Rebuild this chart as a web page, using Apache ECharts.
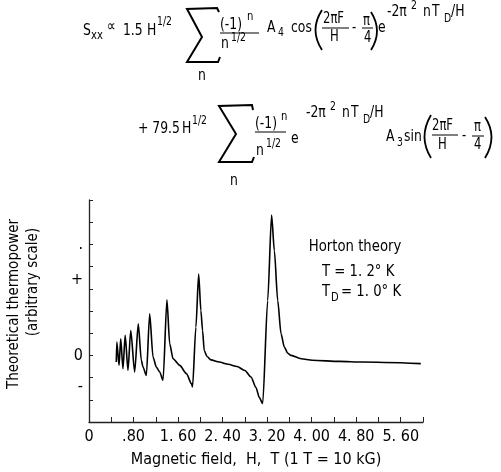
<!DOCTYPE html>
<html>
<head>
  <meta charset="utf-8">
  <title>Horton theory thermopower</title>
  <script src="https://fastly.jsdelivr.net/npm/echarts@6/dist/echarts.min.js"></script>
</head>
<body style="margin:0">
<div id="chart-container" style="width:501px;height:472px;"></div>
<script type="text/javascript">
  var FONT = '"Liberation Sans Narrow", "DejaVu Sans Condensed", sans-serif';

  // magnetic field H (T) and theoretical thermopower (arbitrary units)
  var fieldH = [0.49, 0.50, 0.54, 0.57, 0.61, 0.65, 0.70, 0.75, 0.82, 0.885,
    0.94, 0.97, 1.03, 1.09, 1.15, 1.21, 1.27, 1.33, 1.40, 1.45,
    1.51, 1.63, 1.75, 1.84, 1.86, 1.92, 1.97, 2.01, 2.04, 2.07,
    2.12, 2.19, 2.34, 2.50, 2.66, 2.80, 2.91, 3.00, 3.06, 3.12,
    3.21, 3.28, 3.33, 3.39, 3.45, 3.51, 3.57, 3.63, 3.81, 4.01,
    4.50, 4.91, 5.96];
  var thermo = [-0.3, 0.6, -0.45, 0.75, -0.6, 0.9, -0.67, 1.12, -0.75, 1.42,
    -0.22, -0.52, -0.9, 1.87, -0.07, -0.52, -0.75, -1.12, 2.5, 0.52,
    -0.15, -0.45, -0.82, -1.27, -1.42, 1.27, 3.66, 2.02, 1.12, 0.22,
    -0.05, -0.2, -0.3, -0.4, -0.5, -0.68, -0.97, -1.45, -1.9, -2.17,
    2.47, 6.32, 4.71, 2.47, 0.97, 0.37, 0.1, 0, -0.15, -0.22,
    -0.27, -0.3, -0.37];

  var xLabelValues = [0, 0.8, 1.6, 2.4, 3.2, 4.0, 4.8, 5.6];
  var yLabelValues = [-1.43, 0, 3.4, 5.0];
  var yLabelTexts = ['-', '0', '+', '.'];

  var points = fieldH.map(function (h, i) { return [h, thermo[i]]; });

  // formula pieces: [text, x, y, fontSize]
  var formula = [
    ['S', 83, 31, 16], ['xx', 91, 36, 13], ['\u221d', 107, 27, 16],
    ['1.5', 123, 31, 16], ['H', 147, 31, 16], ['1/2', 157, 22, 12],
    ['n', 198, 76, 16],
    ['(-1)', 220, 25, 16], ['n', 247, 17, 13],
    ['n', 221, 44, 16], ['1/2', 231, 38, 12],
    ['A', 267, 28, 16], ['4', 278, 33, 12], ['cos', 291, 28, 16],
    ['2\u03c0F', 323, 19, 15], ['H', 330, 37, 15],
    ['-', 352, 28, 15], ['\u03c0', 363, 21, 15], ['4', 364, 38, 15],
    ['e', 378, 28, 16],
    ['-2\u03c0', 387, 12, 16], ['2', 411, 6, 12], ['n', 423, 12, 16], ['T', 432, 12, 16],
    ['D', 444, 19, 12], ['/H', 451, 12, 16],

    ['+ 79.5', 138, 129, 16], ['H', 182, 129, 16], ['1/2', 192, 121, 12],
    ['n', 230, 181, 16],
    ['(-1)', 255, 124, 16], ['n', 281, 117, 13],
    ['n', 256, 151, 16], ['1/2', 266, 144, 12],
    ['e', 291, 139, 16],
    ['-2\u03c0', 306, 113, 16], ['2', 330, 107, 12], ['n', 342, 113, 16], ['T', 351, 113, 16],
    ['D', 363, 120, 12], ['/H', 370, 113, 16],
    ['A', 386, 137, 16], ['3', 397, 143, 12], ['sin', 404, 137, 16],
    ['2\u03c0F', 432, 126, 15], ['H', 438, 145, 15],
    ['-', 462, 136, 15], ['\u03c0', 474, 127, 15], ['4', 474, 145, 15]
  ];
  var bars = [
    [220, 33, 259, 33], [322, 28, 349, 28], [362, 28, 373, 28],
    [255, 132, 286, 132], [432, 135, 458, 135], [472, 136, 484, 136]
  ];
  // parentheses: [x1, y1, cpx, cpy, x2, y2]
  var parens = [
    [322, 10, 309, 30, 322, 50], [371, 12, 383, 31, 371, 50],
    [431, 115, 418, 137, 431, 158], [485, 117, 498, 137, 485, 158]
  ];
  var sigmas = [
    [[219, 12], [217, 8], [187, 9], [202, 37], [187, 62], [218, 62], [220, 57]],
    [[253, 110], [252, 105], [219, 106], [236, 134], [219, 162], [252, 162], [254, 157]]
  ];

  function label(text, x, y, size, align, opts) {
    var el = {
      type: 'text', x: x, y: y, scaleX: 0.86, silent: true,
      style: {
        text: text, x: 0, y: 0, fill: '#000',
        font: size + 'px ' + FONT, textAlign: align || 'left', textVerticalAlign: 'middle'
      }
    };
    return Object.assign(el, opts || {});
  }

  var graphic = [];
  formula.forEach(function (f) {
    graphic.push(label(f[0], f[1], f[2], f[3]));
  });
  bars.forEach(function (b) {
    graphic.push({
      type: 'line', silent: true,
      shape: { x1: b[0], y1: b[1], x2: b[2], y2: b[3] },
      style: { stroke: '#000', lineWidth: 1 }
    });
  });
  parens.forEach(function (p) {
    graphic.push({
      type: 'bezierCurve', silent: true,
      shape: { x1: p[0], y1: p[1], cpx1: p[2], cpy1: p[3], x2: p[4], y2: p[5] },
      style: { stroke: '#000', lineWidth: 1.8, fill: null }
    });
  });
  sigmas.forEach(function (s) {
    graphic.push({
      type: 'polyline', silent: true,
      shape: { points: s },
      style: { stroke: '#000', lineWidth: 2, fill: null }
    });
  });
  // y axis title, two lines
  graphic.push({
    type: 'text', x: 14, y: 304, rotation: Math.PI / 2, silent: true,
    style: { text: 'Theoretical thermopower', fill: '#000', font: '15px ' + FONT,
      textAlign: 'center', textVerticalAlign: 'middle' }
  });
  graphic.push({
    type: 'text', x: 33, y: 282, rotation: Math.PI / 2, silent: true,
    style: { text: '(arbitrary scale)', fill: '#000', font: '15px ' + FONT,
      textAlign: 'center', textVerticalAlign: 'middle' }
  });
  // annotation
  graphic.push(label('Horton theory', 355, 247, 16, 'center', { scaleX: 0.92 }));
  graphic.push(label('T = 1. 2\u00b0 K', 322, 272, 16, 'left', { scaleX: 0.92 }));
  graphic.push(label('T', 322, 292, 16, 'left', { scaleX: 0.92 }));
  graphic.push(label('D', 331, 298, 12, 'left', { scaleX: 0.92 }));
  graphic.push(label('= 1. 0\u00b0 K', 341, 292, 16, 'left', { scaleX: 0.92 }));

  var dom = document.getElementById('chart-container');
  var myChart = echarts.init(dom, null, { renderer: 'canvas' });

  var option = {
    backgroundColor: '#fff',
    animation: false,
    textStyle: { fontFamily: FONT },
    grid: { left: 89, right: 78, top: 200, bottom: 50 },
    xAxis: {
      type: 'value',
      min: 0, max: 6, interval: 0.4,
      name: 'Magnetic field,  H,  T (1 T = 10 kG)',
      nameLocation: 'middle', nameGap: 30,
      nameTextStyle: { color: '#000', fontSize: 16, fontFamily: FONT },
      axisLine: { onZero: false, lineStyle: { color: '#222', width: 1.3 } },
      axisTick: { inside: true, length: 5, lineStyle: { color: '#222' } },
      splitLine: { show: false },
      axisLabel: {
        customValues: xLabelValues,
        color: '#000', fontSize: 16, fontFamily: FONT, margin: 7,
        formatter: function (v) {
          if (v === 0) return '0';
          if (v < 1) return '.' + Math.round(v * 100);
          return v.toFixed(2).replace('.', '. ');
        }
      }
    },
    yAxis: {
      type: 'value',
      min: -3, max: 7, interval: 1,
      axisLine: { show: true, lineStyle: { color: '#222', width: 1.3 } },
      axisTick: { show: true, inside: true, length: 4, lineStyle: { color: '#222' } },
      splitLine: { show: false },
      axisLabel: {
        customValues: yLabelValues,
        color: '#000', fontSize: 16, fontFamily: FONT, margin: 6,
        formatter: function (v) {
          var i = yLabelValues.indexOf(v);
          return i >= 0 ? yLabelTexts[i] : '';
        }
      }
    },
    graphic: graphic,
    series: [
      {
        type: 'line',
        data: points,
        symbol: 'none',
        smooth: 0.25,
        smoothMonotone: 'x',
        lineStyle: { color: '#000', width: 1.6 }
      }
    ]
  };

  myChart.setOption(option);
  window.addEventListener('resize', myChart.resize);
</script>
</body>
</html>
